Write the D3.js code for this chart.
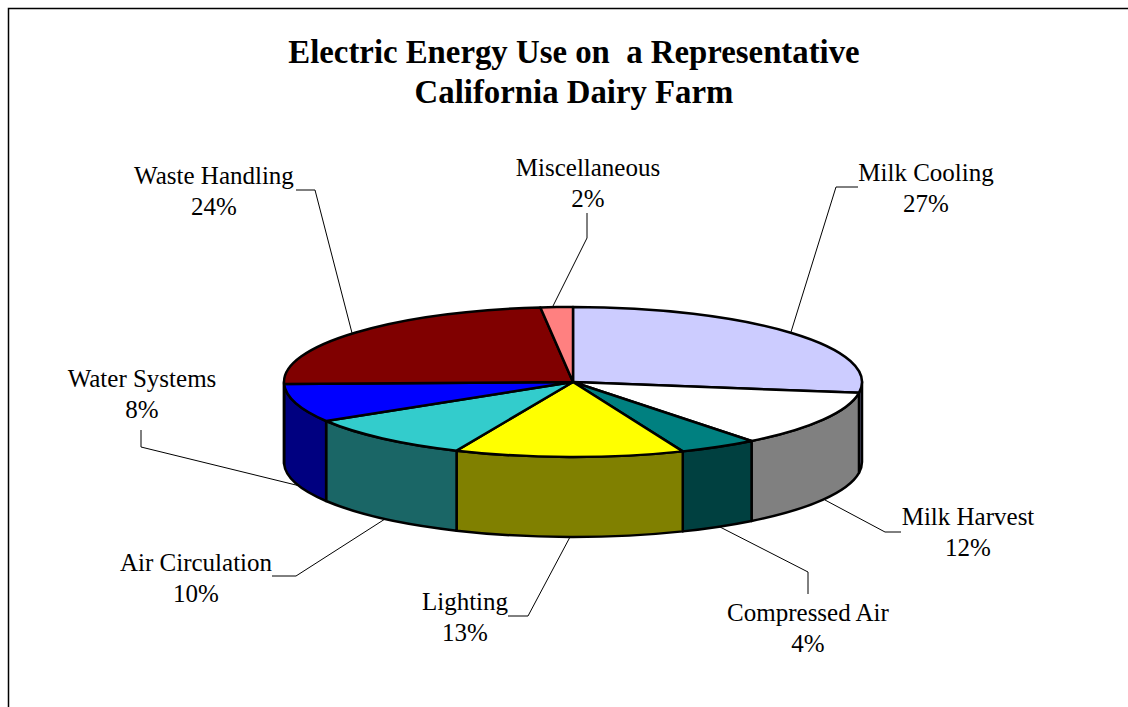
<!DOCTYPE html>
<html>
<head>
<meta charset="utf-8">
<script src="https://cdn.jsdelivr.net/npm/d3@7"></script>
<style>
html, body { margin: 0; padding: 0; background: #fff; overflow: hidden; }
text { font-family: "Liberation Serif", "Times New Roman", serif; fill: #000; }
</style>
</head>
<body>
<div id="canvas"></div>
<script>
// data
var titleLines = ["Electric Energy Use on  a Representative", "California Dairy Farm"];
var categories = ["Milk Cooling", "Milk Harvest", "Compressed Air", "Lighting", "Air Circulation", "Water Systems", "Waste Handling", "Miscellaneous"];
var shares = [27.3, 12.1, 4.4, 12.8, 9.7, 8.3, 23.6, 1.8];
var topColors = ["#CCCCFF", "#FFFFFF", "#008080", "#FFFF00", "#33CCCC", "#0000FF", "#800000", "#FF8080"];
var sideColors = ["#8080B0", "#808080", "#004040", "#808000", "#1A6666", "#000080", "#400000", "#804040"];

// label layout: text centre and leader polyline, in page pixels
var labelCentres = [[926, 173], [968, 517], [808, 613], [465, 602], [196, 563], [142, 379], [214, 176], [588, 168]];
var leaders = [
    [[791, 332], [836, 187], [858, 187]],
    [[825, 500], [885, 532], [901, 532]],
    [[720, 527], [808, 572], [808, 594]],
    [[570, 537], [528, 616], [508, 616]],
    [[385, 519], [296, 576], [272, 576]],
    [[300, 486], [141, 447], [141, 430]],
    [[352, 333], [315, 190], [296, 190]],
    [[552, 308], [587, 238], [587, 213]]
];

var WIDTH = 1128, HEIGHT = 707;
var CX = 573, CY = 382, RX = 289, RY = 75, DEPTH = 80;

var svg = d3.select("#canvas").append("svg")
    .attr("width", WIDTH)
    .attr("height", HEIGHT);

// chart frame, open past the right and bottom edges of the page
svg.append("rect")
    .attr("x", 8.5).attr("y", 8.5)
    .attr("width", WIDTH + 20).attr("height", HEIGHT + 20)
    .attr("fill", "none").attr("stroke", "#000").attr("stroke-width", 1.5);

// title
svg.selectAll("text.title").data(titleLines).enter().append("text")
    .attr("class", "title")
    .attr("x", 574)
    .attr("y", function (d, i) { return 63 + i * 40; })
    .attr("text-anchor", "middle")
    .attr("font-size", "32.8px")
    .attr("font-weight", "bold")
    .attr("xml:space", "preserve")
    .style("white-space", "pre")
    .text(function (d) { return d; });

// unit circle is squashed to the tilted ellipse
var xScale = d3.scaleLinear().domain([-1, 1]).range([CX - RX, CX + RX]);
var yScale = d3.scaleLinear().domain([-1, 1]).range([CY + RY, CY - RY]);
function px(a) { return xScale(Math.sin(a)); }
function py(a) { return yScale(Math.cos(a)); }

var slices = d3.pie().sort(null)(shares);

function arcTo(a1, dy) {
    var sweep = 1;
    return "A" + RX + "," + RY + " 0 0 " + sweep + " " + px(a1) + "," + (py(a1) + dy);
}
// split a long arc so the elliptical arc flag is never needed
function topPath(s) {
    var mid = (s.startAngle + s.endAngle) / 2;
    return "M" + CX + "," + CY +
        "L" + px(s.startAngle) + "," + py(s.startAngle) +
        arcTo(mid, 0) + arcTo(s.endAngle, 0) + "Z";
}
function sidePath(a0, a1) {
    var sweepBack = "A" + RX + "," + RY + " 0 0 0 " + px(a0) + "," + py(a0);
    return "M" + px(a0) + "," + py(a0) +
        "L" + px(a0) + "," + (py(a0) + DEPTH) +
        arcTo(a1, DEPTH) +
        "L" + px(a1) + "," + py(a1) +
        sweepBack + "Z";
}

// leaders go under the pie
svg.selectAll("path.leader").data(leaders).enter().append("path")
    .attr("class", "leader")
    .attr("d", d3.line())
    .attr("fill", "none")
    .attr("stroke", "#000")
    .attr("stroke-width", 1);

// front walls: only the part of each slice between 90 and 270 degrees shows
var walls = slices.map(function (s) {
    return {
        index: s.index,
        a0: Math.max(s.startAngle, Math.PI / 2),
        a1: Math.min(s.endAngle, Math.PI * 1.5)
    };
}).filter(function (w) { return w.a1 > w.a0; });

svg.selectAll("path.wall").data(walls).enter().append("path")
    .attr("class", "wall")
    .attr("d", function (w) { return sidePath(w.a0, w.a1); })
    .attr("fill", function (w) { return sideColors[w.index]; })
    .attr("stroke", "#000")
    .attr("stroke-width", 2.5)
    .attr("stroke-linejoin", "round");

svg.selectAll("path.top").data(slices).enter().append("path")
    .attr("class", "top")
    .attr("d", topPath)
    .attr("fill", function (s) { return topColors[s.index]; })
    .attr("stroke", "#000")
    .attr("stroke-width", 2.5)
    .attr("stroke-linejoin", "round");

// category and percent labels
var labels = svg.selectAll("g.label").data(categories).enter().append("g")
    .attr("class", "label")
    .attr("text-anchor", "middle")
    .attr("font-size", "25px");
labels.append("text")
    .attr("x", function (d, i) { return labelCentres[i][0]; })
    .attr("y", function (d, i) { return labelCentres[i][1] + 8; })
    .text(function (d) { return d; });
labels.append("text")
    .attr("x", function (d, i) { return labelCentres[i][0]; })
    .attr("y", function (d, i) { return labelCentres[i][1] + 39; })
    .text(function (d, i) { return Math.round(shares[i]) + "%"; });
</script>
</body>
</html>
